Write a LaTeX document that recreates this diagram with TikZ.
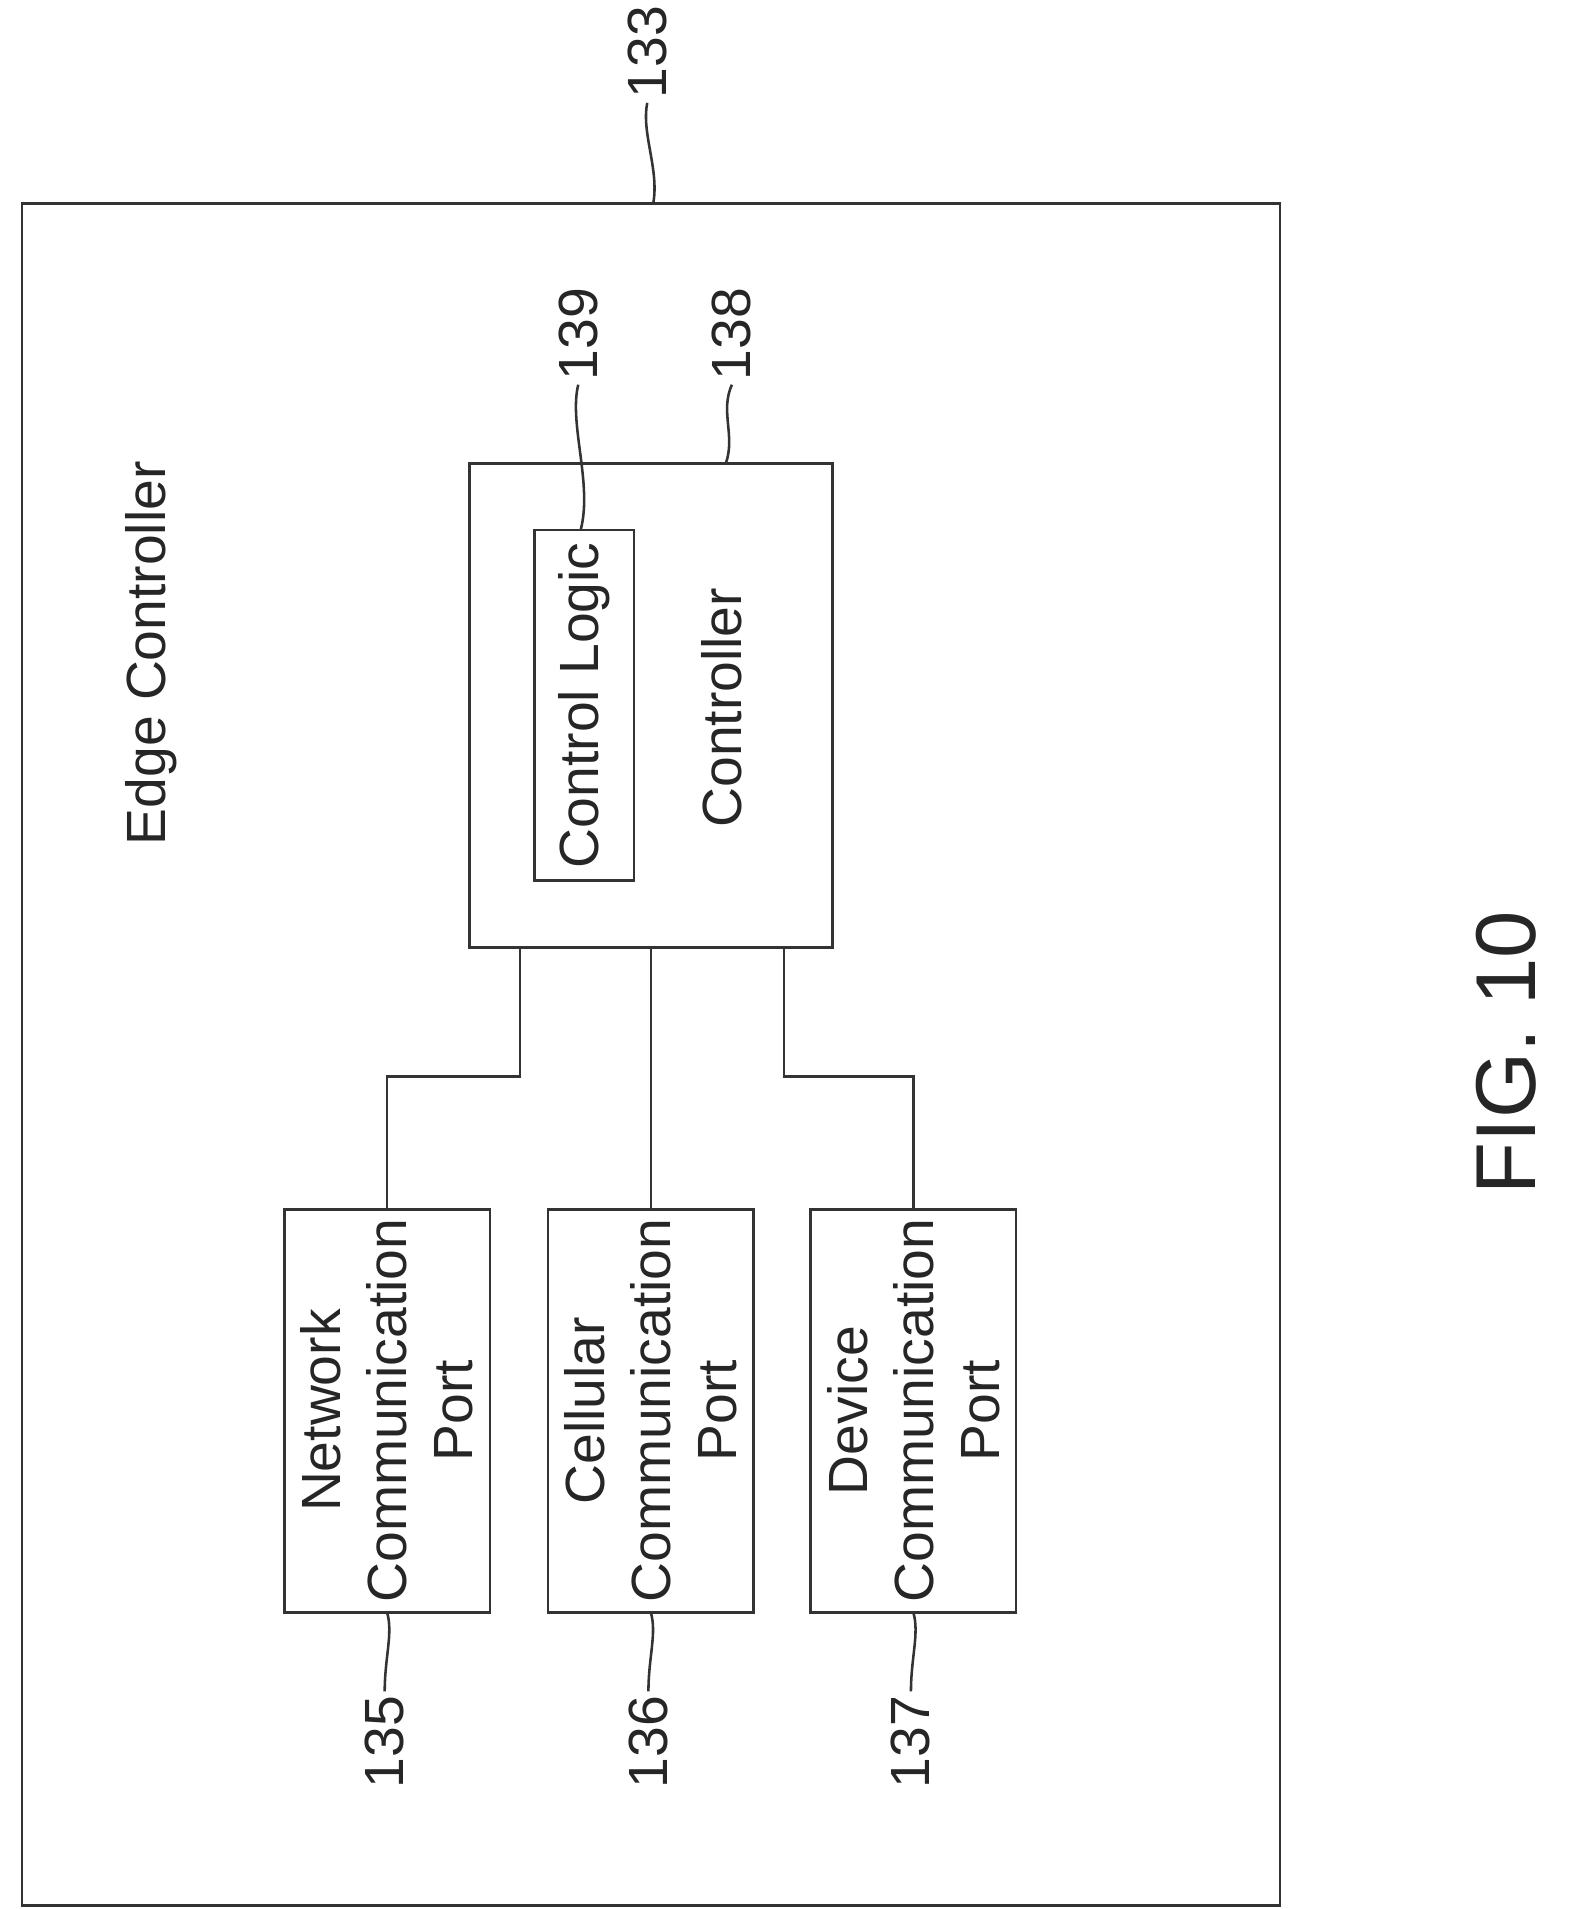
\documentclass[tikz,border=0pt]{standalone}
\usepackage{fontspec}
\setmainfont{Liberation Sans}
\begin{document}
\begin{tikzpicture}[x=0.02cm,y=-0.02cm,
  box/.style={draw=black!80,line width=1.2pt},
  ln/.style={draw=black!80,line width=1.2pt},
  txt/.style={rotate=90,font=\fontsize{26}{31}\selectfont,align=center,text=black!85},
  num/.style={rotate=90,font=\fontsize{26}{31}\selectfont,text=black!85,inner sep=2pt}]
\useasboundingbox (0,0) rectangle (1300,1578);
\draw[box] (18,168) rectangle (1058,1575);
\coordinate (outerTR) at (540,168);
\draw[box] (388,383) rectangle (688,783);
\draw[box] (442,438) rectangle (524,728);
\node[txt] (cl) at (483,583) {Control Logic};
\node[txt] (ctl) at (597,585) {Controller};
\node[txt] (edge) at (125,540) {Edge Controller};
\node[rotate=90,font=\fontsize{40}{48}\selectfont,text=black!85] (fig) at (1245,870) {FIG. 10};
\draw[box] (235,1000) rectangle (405,1333);
\draw[box] (453,1000) rectangle (623,1333);
\draw[box] (670,1000) rectangle (840,1333);
\node[txt] (p1) at (320,1166) {Network\\Communication\\Port};
\node[txt] (p2) at (538,1166) {Cellular\\Communication\\Port};
\node[txt] (p3) at (755,1166) {Device\\Communication\\Port};
\coordinate (c1) at (430,783); \coordinate (c2) at (538,783); \coordinate (c3) at (648,783);
\coordinate (t1) at (320,1000); \coordinate (t2) at (538,1000); \coordinate (t3) at (755,1000);
\draw[ln] (c1) -- (430,890) -| (t1);
\draw[ln] (c2) -- (t2);
\draw[ln] (c3) -- (648,890) -| (t3);
\node[num,anchor=west] (n133) at (535,85) {133};
\draw[ln] (n133.west) .. controls (530,110) and (545,140) .. (outerTR);
\node[num,anchor=west] (n139) at (478,318) {139};
\coordinate (a139) at (480,438);
\draw[ln] (n139.west) .. controls (470,350) and (490,400) .. (a139);
\node[num,anchor=west] (n138) at (605,318) {138};
\coordinate (a138) at (600,383);
\draw[ln] (n138.west) .. controls (595,340) and (608,360) .. (a138);
\foreach \n/\x in {135/320,136/538,137/755}{
  \node[num,anchor=east] (n\n) at (\x-2,1398) {\n};
  \coordinate (b\n) at (\x,1333);
  \draw[ln] (n\n.east) .. controls (\x-2,1370) and (\x+5,1350) .. (b\n);
}
\end{tikzpicture}
\end{document}
